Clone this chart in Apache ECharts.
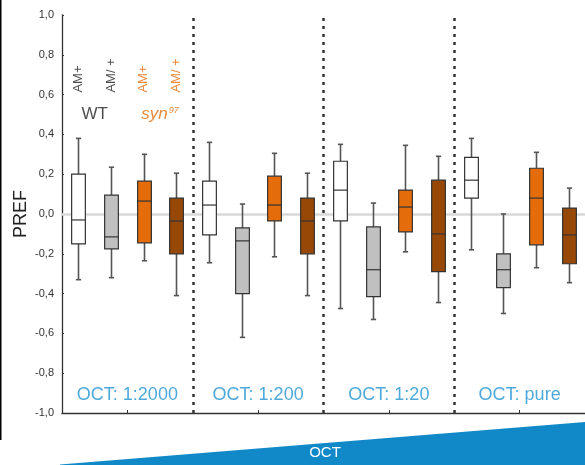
<!DOCTYPE html>
<html>
<head>
<meta charset="utf-8">
<script src="https://cdn.jsdelivr.net/npm/echarts@6/dist/echarts.min.js"></script>
<style>
  html, body { margin: 0; padding: 0; background: #fff; }
  #chart { width: 585px; height: 465px; }
</style>
</head>
<body>
<div id="chart"></div>
<script>
// Odour concentration groups along the x axis
const groups = ['OCT: 1:2000', 'OCT: 1:200', 'OCT: 1:20', 'OCT: pure'];

// Genotypes within each group, in plotting order
const genotypeNames = ['WT AM+', 'WT AM/+', 'syn97 AM+', 'syn97 AM/+'];
const genotypeLabels = ['AM+', 'AM/ +', 'AM+', 'AM/ +'];

// Box statistics per group: [lower whisker, Q1, median, Q3, upper whisker]
const wtAM = [
  [-0.33, -0.15, -0.03, 0.20, 0.38],
  [-0.245, -0.105, 0.045, 0.165, 0.36],
  [-0.475, -0.035, 0.12, 0.265, 0.35],
  [-0.18, 0.08, 0.17, 0.285, 0.38]
];
const wtAMhet = [
  [-0.32, -0.175, -0.115, 0.095, 0.235],
  [-0.62, -0.40, -0.135, -0.07, 0.05],
  [-0.53, -0.415, -0.28, -0.065, 0.055],
  [-0.50, -0.37, -0.28, -0.20, 0.0]
];
const synAM = [
  [-0.235, -0.145, 0.065, 0.165, 0.30],
  [-0.215, -0.035, 0.045, 0.19, 0.305],
  [-0.19, -0.09, 0.035, 0.12, 0.345],
  [-0.27, -0.155, 0.08, 0.23, 0.31]
];
const synAMhet = [
  [-0.41, -0.20, -0.035, 0.08, 0.205],
  [-0.41, -0.20, -0.035, 0.08, 0.205],
  [-0.445, -0.29, -0.10, 0.17, 0.29],
  [-0.345, -0.25, -0.105, 0.03, 0.13]
];

// Y axis ticks
const yMin = -1.0, yMax = 1.0, yStep = 0.2;

const boxColors = ['#ffffff', '#c0c0c0', '#e46c0a', '#974806'];
const labelColors = ['#222222', '#222222', '#e46c0a', '#e46c0a'];
const blue = '#1f93d1';

const allStats = [wtAM, wtAMhet, synAM, synAMhet];

// x position: 4 slots per group
function slotX(g, k) { return g * 4 + k + 0.5; }

function boxSeries(k) {
  const data = allStats[k].map((s, g) => [slotX(g, k)].concat(s));
  return {
    name: genotypeNames[k],
    type: 'custom',
    z: 3,
    data: data,
    encode: { x: 0, y: [1, 2, 3, 4, 5] },
    renderItem: function (params, api) {
      const x = api.value(0);
      const pLow = api.coord([x, api.value(1)]);
      const pQ1 = api.coord([x, api.value(2)]);
      const pMed = api.coord([x, api.value(3)]);
      const pQ3 = api.coord([x, api.value(4)]);
      const pHigh = api.coord([x, api.value(5)]);
      const half = api.size([1, 0])[0] * 0.21;
      const cap = 2.6;
      const cx = Math.round(pMed[0]) + 0.5;
      const wh = { stroke: '#555', lineWidth: 1.6 };
      const edge = { stroke: '#333', lineWidth: 1.2 };
      return {
        type: 'group',
        children: [
          { type: 'line', shape: { x1: cx, y1: pQ3[1], x2: cx, y2: pHigh[1] }, style: wh },
          { type: 'line', shape: { x1: cx, y1: pQ1[1], x2: cx, y2: pLow[1] }, style: wh },
          { type: 'line', shape: { x1: cx - cap, y1: pHigh[1], x2: cx + cap, y2: pHigh[1] }, style: wh },
          { type: 'line', shape: { x1: cx - cap, y1: pLow[1], x2: cx + cap, y2: pLow[1] }, style: wh },
          { type: 'rect', shape: { x: cx - half, y: pQ3[1], width: half * 2, height: pQ1[1] - pQ3[1] },
            style: { fill: boxColors[k], stroke: '#333', lineWidth: 1.2 } },
          { type: 'line', shape: { x1: cx - half, y1: pMed[1], x2: cx + half, y2: pMed[1] }, style: edge }
        ]
      };
    }
  };
}

const chart = echarts.init(document.getElementById('chart'), null, { renderer: 'canvas' });

const font = '"Liberation Sans", Arial, sans-serif';

const option = {
  animation: false,
  backgroundColor: '#fff',
  grid: { left: 62, top: 15, width: 528, height: 398, containLabel: false },
  xAxis: {
    type: 'value',
    min: 0, max: 16, interval: 2,
    axisLine: { show: true, onZero: false, lineStyle: { color: '#333', width: 1.3 } },
    axisTick: { show: true, inside: true, length: 3, lineStyle: { color: '#333' } },
    axisLabel: { show: false },
    splitLine: { show: false }
  },
  yAxis: {
    type: 'value',
    min: yMin, max: yMax, interval: yStep,
    name: 'PREF',
    nameLocation: 'middle',
    nameGap: 32,
    nameMoveOverlap: false,
    nameTextStyle: { fontFamily: font, fontSize: 18, color: '#222' },
    axisLine: { show: true, onZero: false, lineStyle: { color: '#333', width: 1.3 } },
    axisTick: { show: true, inside: true, length: 2, lineStyle: { color: '#333' } },
    axisLabel: {
      fontFamily: font, fontSize: 11, color: '#333', margin: 8,
      formatter: v => v.toFixed(1).replace('.', ',')
    },
    splitLine: { show: false }
  },
  graphic: [
    { type: 'line', shape: { x1: 0.5, y1: 0, x2: 0.5, y2: 440 }, style: { stroke: '#000', lineWidth: 2 } },
    { type: 'polygon', z: 0,
      shape: { points: [[60, 464.5], [590, 421.5], [590, 470], [60, 470]] },
      style: { fill: '#1188c8' } },
    { type: 'text', z: 1, x: 325, y: 453,
      style: { text: 'OCT', fontFamily: font, fontSize: 15, fill: '#fff', align: 'center', verticalAlign: 'middle' } }
  ],
  series: [
    // zero reference line and group separators, kept behind the boxes
    {
      type: 'line', data: [], z: 1, silent: true,
      markLine: {
        z: 1,
        silent: true, symbol: 'none', label: { show: false }, animation: false,
        data: [
          { yAxis: 0, lineStyle: { color: '#d9d9d9', width: 2.5, type: 'solid' } },
          { xAxis: 4, lineStyle: { color: '#333', width: 2.5, type: [3, 5] } },
          { xAxis: 8, lineStyle: { color: '#333', width: 2.5, type: [3, 5] } },
          { xAxis: 12, lineStyle: { color: '#333', width: 2.5, type: [3, 5] } }
        ]
      }
    },
    boxSeries(0), boxSeries(1), boxSeries(2), boxSeries(3),
    // genotype labels above the first group
    {
      type: 'scatter', symbolSize: 0, z: 4, silent: true,
      data: genotypeLabels.map((t, k) => ({
        value: [slotX(0, k), 0.61],
        label: {
          show: true, formatter: t, rotate: 90, position: 'inside',
          align: 'left', verticalAlign: 'middle',
          fontFamily: font, fontSize: 13, color: labelColors[k]
        }
      }))
    },
    // genotype group names
    {
      type: 'scatter', symbolSize: 0, z: 4, silent: true,
      data: [
        { value: [1, 0.5], label: { show: true, position: 'inside', formatter: 'WT',
            fontFamily: font, fontSize: 17, color: '#222' } },
        { value: [3, 0.5], label: { show: true, position: 'inside', formatter: '{s|syn}{p|97}',
            rich: {
              s: { fontFamily: font, fontSize: 17, fontStyle: 'italic', color: '#e46c0a' },
              p: { fontFamily: font, fontSize: 9, fontStyle: 'italic', color: '#e46c0a', verticalAlign: 'top', padding: [0, 0, 8, 1] }
            } } }
      ]
    },
    // concentration labels at the bottom of each group
    {
      type: 'scatter', symbolSize: 0, z: 4, silent: true,
      data: groups.map((g, i) => ({
        value: [i * 4 + 2, -0.91],
        label: { show: true, position: 'inside', formatter: g,
          fontFamily: font, fontSize: 18, color: blue }
      }))
    }
  ]
};

chart.setOption(option);
</script>
</body>
</html>
